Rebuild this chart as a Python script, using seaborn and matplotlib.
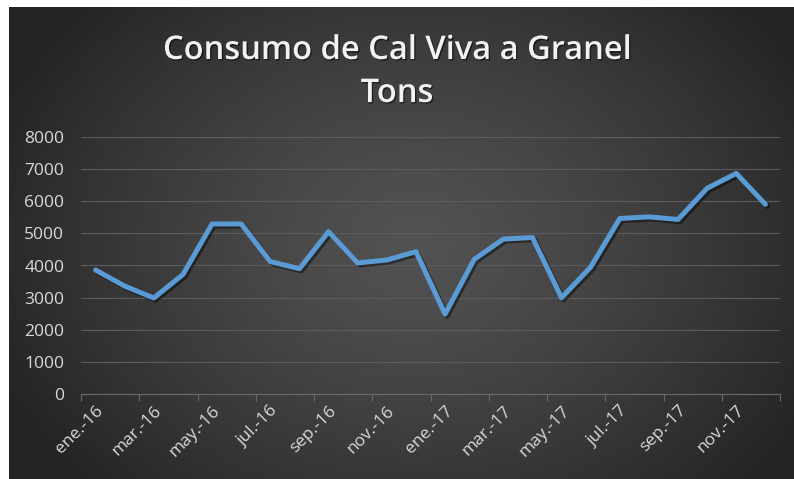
import numpy as np
import pandas as pd
import matplotlib
matplotlib.use("Agg")
import matplotlib.pyplot as plt
import matplotlib.patheffects as pe
import seaborn as sns

months = ["ene.-16", "feb.-16", "mar.-16", "abr.-16", "may.-16", "jun.-16",
          "jul.-16", "ago.-16", "sep.-16", "oct.-16", "nov.-16", "dic.-16",
          "ene.-17", "feb.-17", "mar.-17", "abr.-17", "may.-17", "jun.-17",
          "jul.-17", "ago.-17", "sep.-17", "oct.-17", "nov.-17", "dic.-17"]
tons = [3860, 3360, 2990, 3720, 5290, 5290, 4120, 3900, 5050, 4080, 4170, 4430,
        2490, 4190, 4820, 4870, 3000, 3950, 5460, 5510, 5430, 6400, 6860, 5900]
yticks = [0, 1000, 2000, 3000, 4000, 5000, 6000, 7000, 8000]
title_text = "Consumo de Cal Viva a Granel\nTons"

sns.set_theme(style="white")
plt.rcParams['font.family'] = ['Open Sans', 'DejaVu Sans']

W, H = 794, 479
fig = plt.figure(figsize=(W / 100, H / 100), dpi=100, facecolor="white")

# background radial gradient
bg = fig.add_axes([9 / W, 0, 1 - 9 / W, 1 - 7 / H], zorder=0)
yy, xx = np.mgrid[0:200, 0:330]
cx, cy = 170, 100
r = np.sqrt(((xx - cx) / 190.0) ** 2 + ((yy - cy) / 150.0) ** 2)
r = np.clip(r, 0, 1)
inner, outer = 0x52 / 255, 0x24 / 255
val = inner + (outer - inner) * r ** 1.3
bg.imshow(np.dstack([val, val, val]), aspect="auto", interpolation="bilinear")
bg.set_axis_off()

df = pd.DataFrame({"idx": np.arange(len(months)), "tons": tons})

ax = fig.add_axes([81 / W, 1 - 394.3 / H, (780 - 81) / W, (394.3 - 136.7) / H], zorder=1)
ax.patch.set_alpha(0)
sns.lineplot(data=df, x="idx", y="tons", ax=ax, color="#5B9BD5", linewidth=3.6,
             solid_joinstyle="round", solid_capstyle="round", zorder=3)
for line in ax.get_lines():
    line.set_path_effects([pe.SimpleLineShadow(offset=(1.5, -1.5), shadow_color="black", alpha=0.45),
                           pe.Normal()])

ax.set_xlim(-0.5, len(months) - 0.5)
ax.set_ylim(0, 8000)
ax.set_yticks(yticks)
ax.set_yticklabels([str(v) for v in yticks], color="#d9d9d9", fontsize=12.5)
ax.set_xticks(np.arange(0, len(months), 2))
ax.set_xticklabels(months[::2], rotation=45, ha="right", rotation_mode="anchor",
                   color="#d9d9d9", fontsize=12.5)
ax.set_xticks(np.arange(-0.5, len(months), 2), minor=True)
ax.tick_params(axis="x", which="major", length=0, pad=6)
ax.tick_params(axis="x", which="minor", length=5, color="#6a6a6a", width=0.8, bottom=True)
ax.tick_params(axis="y", length=0, pad=12)
ax.grid(axis="y", color="#5c5c5c", linewidth=0.8)
ax.grid(axis="x", visible=False)
ax.set_axisbelow(True)
for s in ["top", "right", "left"]:
    ax.spines[s].set_visible(False)
ax.spines["bottom"].set_color("#6a6a6a")
ax.spines["bottom"].set_linewidth(0.8)
ax.set_xlabel("")
ax.set_ylabel("")

fig.text(0.5, 1 - 72 / H, title_text, ha="center", va="center", fontsize=23.5,
         fontweight="semibold", color="#f2f2f2", linespacing=1.4,
         path_effects=[pe.withSimplePatchShadow(offset=(1, -1), shadow_rgbFace="black", alpha=0.5)])

fig.savefig("out.png", dpi=100, facecolor="white")
